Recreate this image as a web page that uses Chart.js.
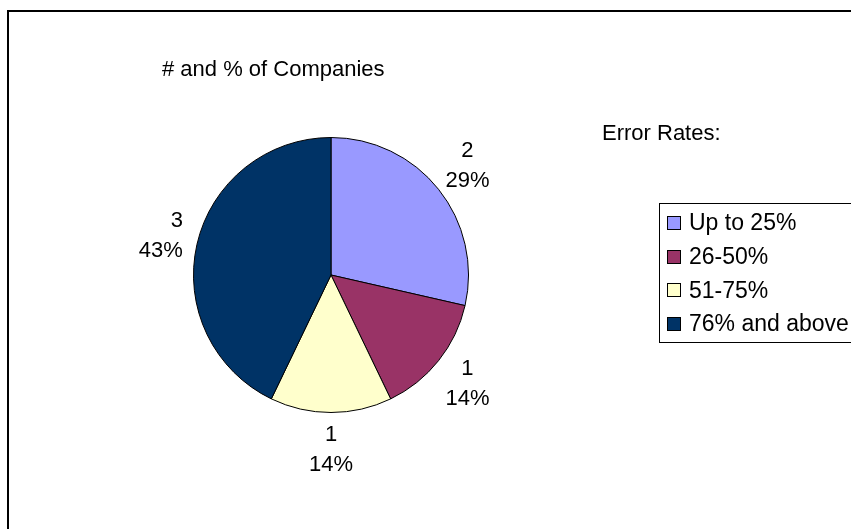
<!DOCTYPE html>
<html>
<head>
<meta charset="utf-8">
<title>Error Rates</title>
<script src="https://cdn.jsdelivr.net/npm/chart.js@4"></script>
<style>
  html, body { margin: 0; padding: 0; background: #fff; }
  #chart { display: block; }
</style>
</head>
<body>
<canvas id="chart" width="851" height="529"></canvas>
<script>
// data
const categories = ['Up to 25%', '26-50%', '51-75%', '76% and above'];
const companies = [2, 1, 1, 3];
const pctLabels = ['29%', '14%', '14%', '43%'];
const sliceColors = ['#9999FF', '#993366', '#FFFFCC', '#003366'];
const chartTitle = '# and % of Companies';
const legendTitle = 'Error Rates:';

const FONT = '22px "Liberation Sans", Arial, sans-serif';
const LEGEND_FONT = '23px "Liberation Sans", Arial, sans-serif';

// draws frame, texts, slice labels and the boxed legend
const decor = {
  id: 'decor',
  afterDraw(chart){
    const ctx = chart.ctx;
    ctx.save();

    // outer frame (only top and left visible in the picture)
    ctx.strokeStyle = '#000';
    ctx.lineWidth = 2;
    ctx.strokeRect(8, 11, 900, 600);

    ctx.fillStyle = '#000';
    ctx.font = FONT;
    ctx.textBaseline = 'middle';
    ctx.textAlign = 'left';
    ctx.fillText(chartTitle, 162, 70);
    ctx.fillText(legendTitle, 602, 134);

    // slice labels
    const meta = chart.getDatasetMeta(0);
    meta.data.forEach((arc, i) => {
      const p = arc.getProps(['x','y','startAngle','endAngle','outerRadius'], true);
      const mid = (p.startAngle + p.endAngle) / 2;
      const d = p.outerRadius + 37;
      const lx = p.x + Math.cos(mid) * d;
      const ly = p.y + Math.sin(mid) * d;
      const lines = [String(companies[i]), pctLabels[i]];
      const w = Math.max(...lines.map(t => ctx.measureText(t).width));
      if(Math.cos(mid) < -0.3){
        ctx.textAlign = 'right';
        lines.forEach((t, k) => ctx.fillText(t, lx + w/2, ly - 15 + k*30));
      } else {
        ctx.textAlign = 'center';
        lines.forEach((t, k) => ctx.fillText(t, lx, ly - 15 + k*30));
      }
    });

    // legend box (runs off the right edge like the original)
    ctx.lineWidth = 1;
    ctx.strokeStyle = '#000';
    ctx.strokeRect(659.5, 203.5, 300, 139);
    ctx.font = LEGEND_FONT;
    ctx.textAlign = 'left';
    categories.forEach((c, i) => {
      const y = 223 + i*33.7;
      ctx.fillStyle = sliceColors[i];
      ctx.fillRect(667.5, Math.round(y) - 6.5, 13, 13);
      ctx.strokeRect(667.5, Math.round(y) - 6.5, 13, 13);
      ctx.fillStyle = '#000';
      ctx.fillText(c, 689, y + 1);
    });

    ctx.restore();
  }
};

new Chart(document.getElementById('chart'), {
  type: 'pie',
  data: {
    labels: categories,
    datasets: [{
      data: companies,
      backgroundColor: sliceColors,
      borderColor: '#000',
      borderWidth: 1
    }]
  },
  options: {
    responsive: false,
    animation: false,
    layout: { padding: { left: 193, right: 382, top: 137, bottom: 116 } },
    plugins: {
      legend: { display: false },
      tooltip: { enabled: false }
    }
  },
  plugins: [decor]
});
</script>
</body>
</html>
